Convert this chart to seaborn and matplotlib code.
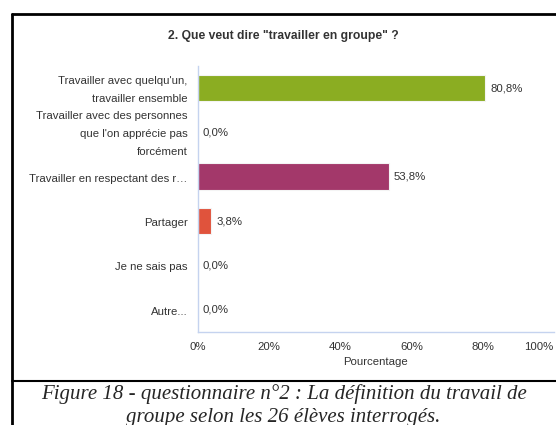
import pandas as pd
import matplotlib.pyplot as plt
import seaborn as sns
from matplotlib.lines import Line2D
from matplotlib.transforms import blended_transform_factory, offset_copy

# Survey answers (percent of 26 pupils)
categories = [
    "Travailler avec quelqu'un,\ntravailler ensemble",
    "Travailler avec des personnes\nque l'on apprécie pas\nforcément",
    "Travailler en respectant des r…",
    "Partager",
    "Je ne sais pas",
    "Autre...",
]
percentages = [80.8, 0.0, 53.8, 3.8, 0.0, 0.0]
value_labels = ["80,8%", "0,0%", "53,8%", "3,8%", "0,0%", "0,0%"]
bar_colors = ["#8bad22", "#6f9bd1", "#a3386a", "#e0533c", "#999999", "#999999"]
x_ticks = [0, 20, 40, 60, 80, 100]
x_tick_labels = ["0%", "20%", "40%", "60%", "80%", "100%"]

df = pd.DataFrame({"Réponse": categories, "Pourcentage": percentages})

sns.set_style("white")
plt.rcParams["font.family"] = ["Liberation Sans", "DejaVu Sans"]

fig = plt.figure(figsize=(5.56, 4.25), dpi=100)
ax = fig.add_axes([0.356, 0.219, 0.640, 0.626])

sns.barplot(data=df, x="Pourcentage", y="Réponse", hue="Réponse",
            palette=bar_colors, saturation=1, orient="h", width=0.6, legend=False,
            edgecolor="#f4f4f4", linewidth=0.8, ax=ax)

# value labels at the bar ends
for i, (v, lab) in enumerate(zip(percentages, value_labels)):
    ax.text(v + 1.3, i, lab, va="center", ha="left", fontsize=8.2, color="#333333")

ax.set_xlim(0, 100)
ax.set_ylim(5.5, -0.5)
ax.set_xticks(x_ticks)
ax.set_xticklabels(x_tick_labels, fontsize=8.2, color="#333333")
ax.set_yticks([i - 0.5 for i in range(len(categories) + 1)], minor=True)
ax.set_yticks(range(len(categories)))
ax.set_yticklabels([])
# category labels drawn as texts so the wider line spacing sticks
lab_tr = offset_copy(blended_transform_factory(ax.transAxes, ax.transData),
                     fig=fig, x=-7.5, y=-1.4, units="points")
for i, cat in enumerate(categories):
    ax.text(0, i, cat, transform=lab_tr, ha="right", va="center",
            fontsize=8.2, color="#333333", linespacing=2.0, multialignment="right")
ax.tick_params(axis="y", which="major", length=0)
ax.tick_params(axis="y", which="minor", length=7.2, color="#c5d3ef", width=1)
ax.tick_params(axis="x", length=4.5, color="#c5d3ef", width=1, pad=3)
ax.get_xticklabels()[-1].set_horizontalalignment("right")
ax.set_xlabel("Pourcentage", fontsize=8.2, color="#333333", labelpad=3)
ax.set_ylabel("")

for side in ["top", "right"]:
    ax.spines[side].set_visible(False)
for side in ["left", "bottom"]:
    ax.spines[side].set_color("#c5d3ef")
    ax.spines[side].set_linewidth(1)

fig.text(0.509, 0.915, '2. Que veut dire "travailler en groupe" ?',
         ha="center", va="center", fontsize=8.7, fontweight="bold", color="#333333")

# document frame around the chart
fig.add_artist(Line2D([0.021, 0.021], [0.0, 0.966], color="black", lw=2, transform=fig.transFigure))
fig.add_artist(Line2D([0.021, 1.0], [0.966, 0.966], color="black", lw=2, transform=fig.transFigure))
fig.add_artist(Line2D([0.021, 1.0], [0.104, 0.104], color="black", lw=1.5, transform=fig.transFigure))

# caption
fig.text(0.51, 0.074, "Figure 18 - questionnaire n°2 : La définition du travail de",
         ha="center", va="center", fontsize=15, style="italic", family="Liberation Serif")
fig.text(0.51, 0.018, "groupe selon les 26 élèves interrogés.",
         ha="center", va="center", fontsize=15, style="italic", family="Liberation Serif")

plt.savefig("out.png", dpi=100)
